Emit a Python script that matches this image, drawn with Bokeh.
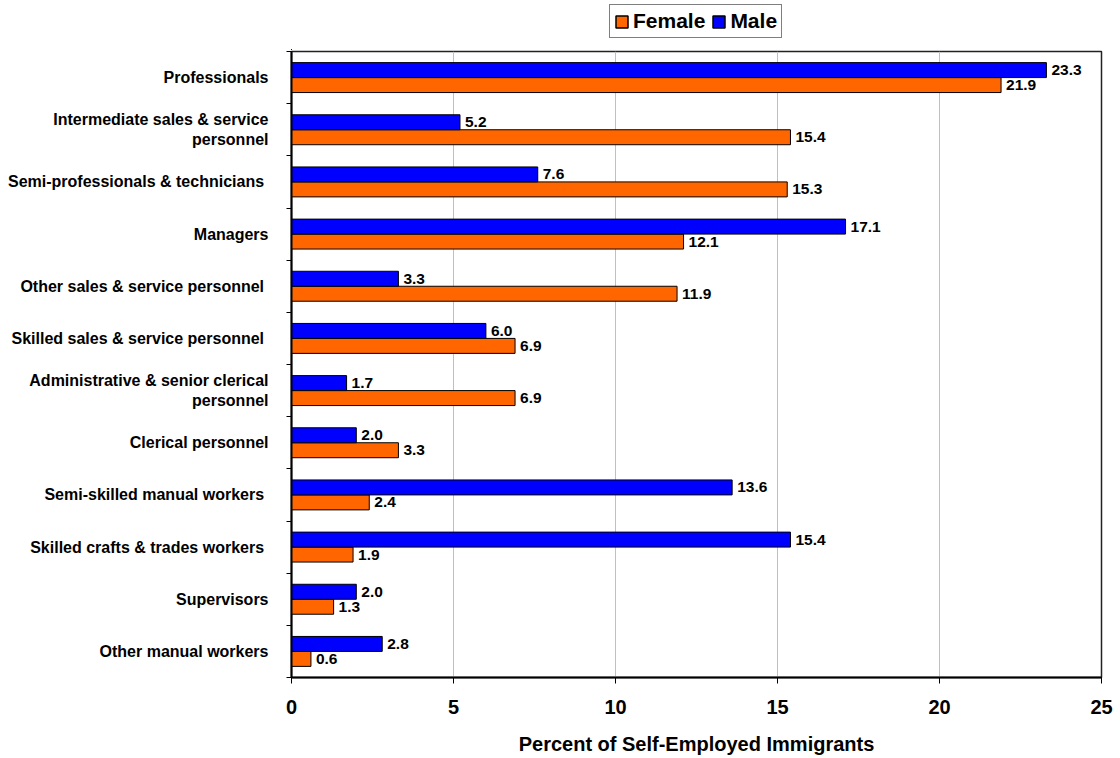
from bokeh.plotting import figure
from bokeh.layouts import column
from bokeh.models import Range1d, FixedTicker, Legend, LegendItem, ColumnDataSource
from bokeh.transform import dodge
from bokeh.embed import file_html
from bokeh.resources import INLINE
from bokeh.core.properties import value

categories = [
    "Professionals",
    "Intermediate sales & service\npersonnel",
    "Semi-professionals & technicians ",
    "Managers",
    "Other sales & service personnel ",
    "Skilled sales & service personnel ",
    "Administrative & senior clerical\npersonnel",
    "Clerical personnel",
    "Semi-skilled manual workers ",
    "Skilled crafts & trades workers ",
    "Supervisors",
    "Other manual workers",
]
female = [21.9, 15.4, 15.3, 12.1, 11.9, 6.9, 6.9, 3.3, 2.4, 1.9, 1.3, 0.6]
male = [23.3, 5.2, 7.6, 17.1, 3.3, 6.0, 1.7, 2.0, 13.6, 15.4, 2.0, 2.8]
x_ticks = [0, 5, 10, 15, 20, 25]
series_names = ["Female", "Male"]
colors = ["#FF6600", "#0000FF"]

FONT = "Liberation Sans"
n = len(categories)
pos = [n - i - 0.5 for i in range(n)]

src = ColumnDataSource(dict(
    pos=pos,
    female=female,
    male=male,
    female_lbl=[f"{v:.1f}" for v in female],
    male_lbl=[f"{v:.1f}" for v in male],
))

LEG_H = 50
p = figure(width=1120, height=758 - LEG_H, output_backend="svg", toolbar_location=None,
           x_range=Range1d(0, 25), y_range=Range1d(0, n),
           min_border_left=291, min_border_right=19, min_border_top=1, min_border_bottom=81)
p.background_fill_color = "white"
p.border_fill_color = "white"
p.outline_line_color = "#222222"
p.outline_line_width = 1.5

bw = 0.287
off = bw / 2
rf = p.hbar(y=dodge("pos", -off), right="female", left=0, height=bw, source=src,
            fill_color=colors[0], line_color="black", line_width=1)
rm = p.hbar(y=dodge("pos", off), right="male", left=0, height=bw, source=src,
            fill_color=colors[1], line_color="black", line_width=1)

for col, d in (("female_lbl", -off), ("male_lbl", off)):
    p.text(x=col.split("_")[0], y=dodge("pos", d), text=col, source=src, x_offset=5,
           text_baseline="middle", text_align="left", text_font=value(FONT),
           text_font_style="bold", text_font_size="15.5px", text_color="black")

# x axis
xa = p.xaxis[0]
xa.ticker = FixedTicker(ticks=x_ticks)
xa.axis_label = "Percent of Self-Employed Immigrants"
xa.axis_label_text_font = FONT
xa.axis_label_text_font_style = "bold"
xa.axis_label_text_font_size = "20px"
xa.axis_label_text_color = "black"
xa.axis_label_standoff = 16
xa.major_label_text_font = FONT
xa.major_label_text_font_style = "bold"
xa.major_label_text_font_size = "20px"
xa.major_label_text_color = "black"
xa.major_label_standoff = 16
xa.major_tick_out = 6
xa.major_tick_in = 0
xa.minor_tick_line_color = None
xa.axis_line_width = 2
xa.axis_line_color = "black"
xa.major_tick_line_color = "black"

# y axis
ya = p.yaxis[0]
ya.ticker = FixedTicker(ticks=pos, minor_ticks=list(range(n + 1)))
ya.major_label_overrides = {pv: c for pv, c in zip(pos, categories)}
ya.major_label_text_font = FONT
ya.major_label_text_font_style = "bold"
ya.major_label_text_font_size = "16px"
ya.major_label_text_color = "black"
ya.major_label_standoff = 18
ya.major_tick_out = 0
ya.major_tick_in = 0
ya.major_tick_line_color = None
ya.minor_tick_out = 5
ya.minor_tick_in = 0
ya.minor_tick_line_color = "black"
ya.minor_tick_line_width = 1
ya.axis_line_width = 2
ya.axis_line_color = "black"

p.xgrid.grid_line_color = "#c0c0c0"
p.xgrid.grid_line_width = 1
p.ygrid.visible = False

# legend strip above the chart (its frame is aligned with the chart's frame)
lf = figure(width=1120, height=LEG_H, output_backend="svg", toolbar_location=None,
            x_range=Range1d(100, 101), y_range=Range1d(100, 101),
            x_axis_location=None, y_axis_location=None,
            min_border_left=0, min_border_right=0, min_border_top=0, min_border_bottom=0)
lf.outline_line_color = None
lf.xgrid.visible = False
lf.ygrid.visible = False
lf.background_fill_color = "white"
lf.border_fill_color = "white"
lrf = lf.hbar(y="pos", right="female", left=0, height=bw, source=src,
              fill_color=colors[0], line_color="black", line_width=1.5)
lrm = lf.hbar(y="pos", right="male", left=0, height=bw, source=src,
              fill_color=colors[1], line_color="black", line_width=1.5)

legend = Legend(items=[LegendItem(label=series_names[0], renderers=[lrf]),
                       LegendItem(label=series_names[1], renderers=[lrm])],
                orientation="horizontal", location=(318, 12))
legend.label_text_font = FONT
legend.label_text_font_style = "bold"
legend.label_text_font_size = "21px"
legend.label_text_color = "black"
legend.glyph_width = 15
legend.glyph_height = 15
legend.label_standoff = 4
legend.spacing = 6
legend.padding = 4
legend.margin = 0
legend.border_line_color = "black"
legend.border_line_width = 1
legend.background_fill_alpha = 1
legend.label_height = 15
lf.add_layout(legend, "center")

layout = column(lf, p, spacing=0)
open("out.html", "w").write(file_html(layout, INLINE))
